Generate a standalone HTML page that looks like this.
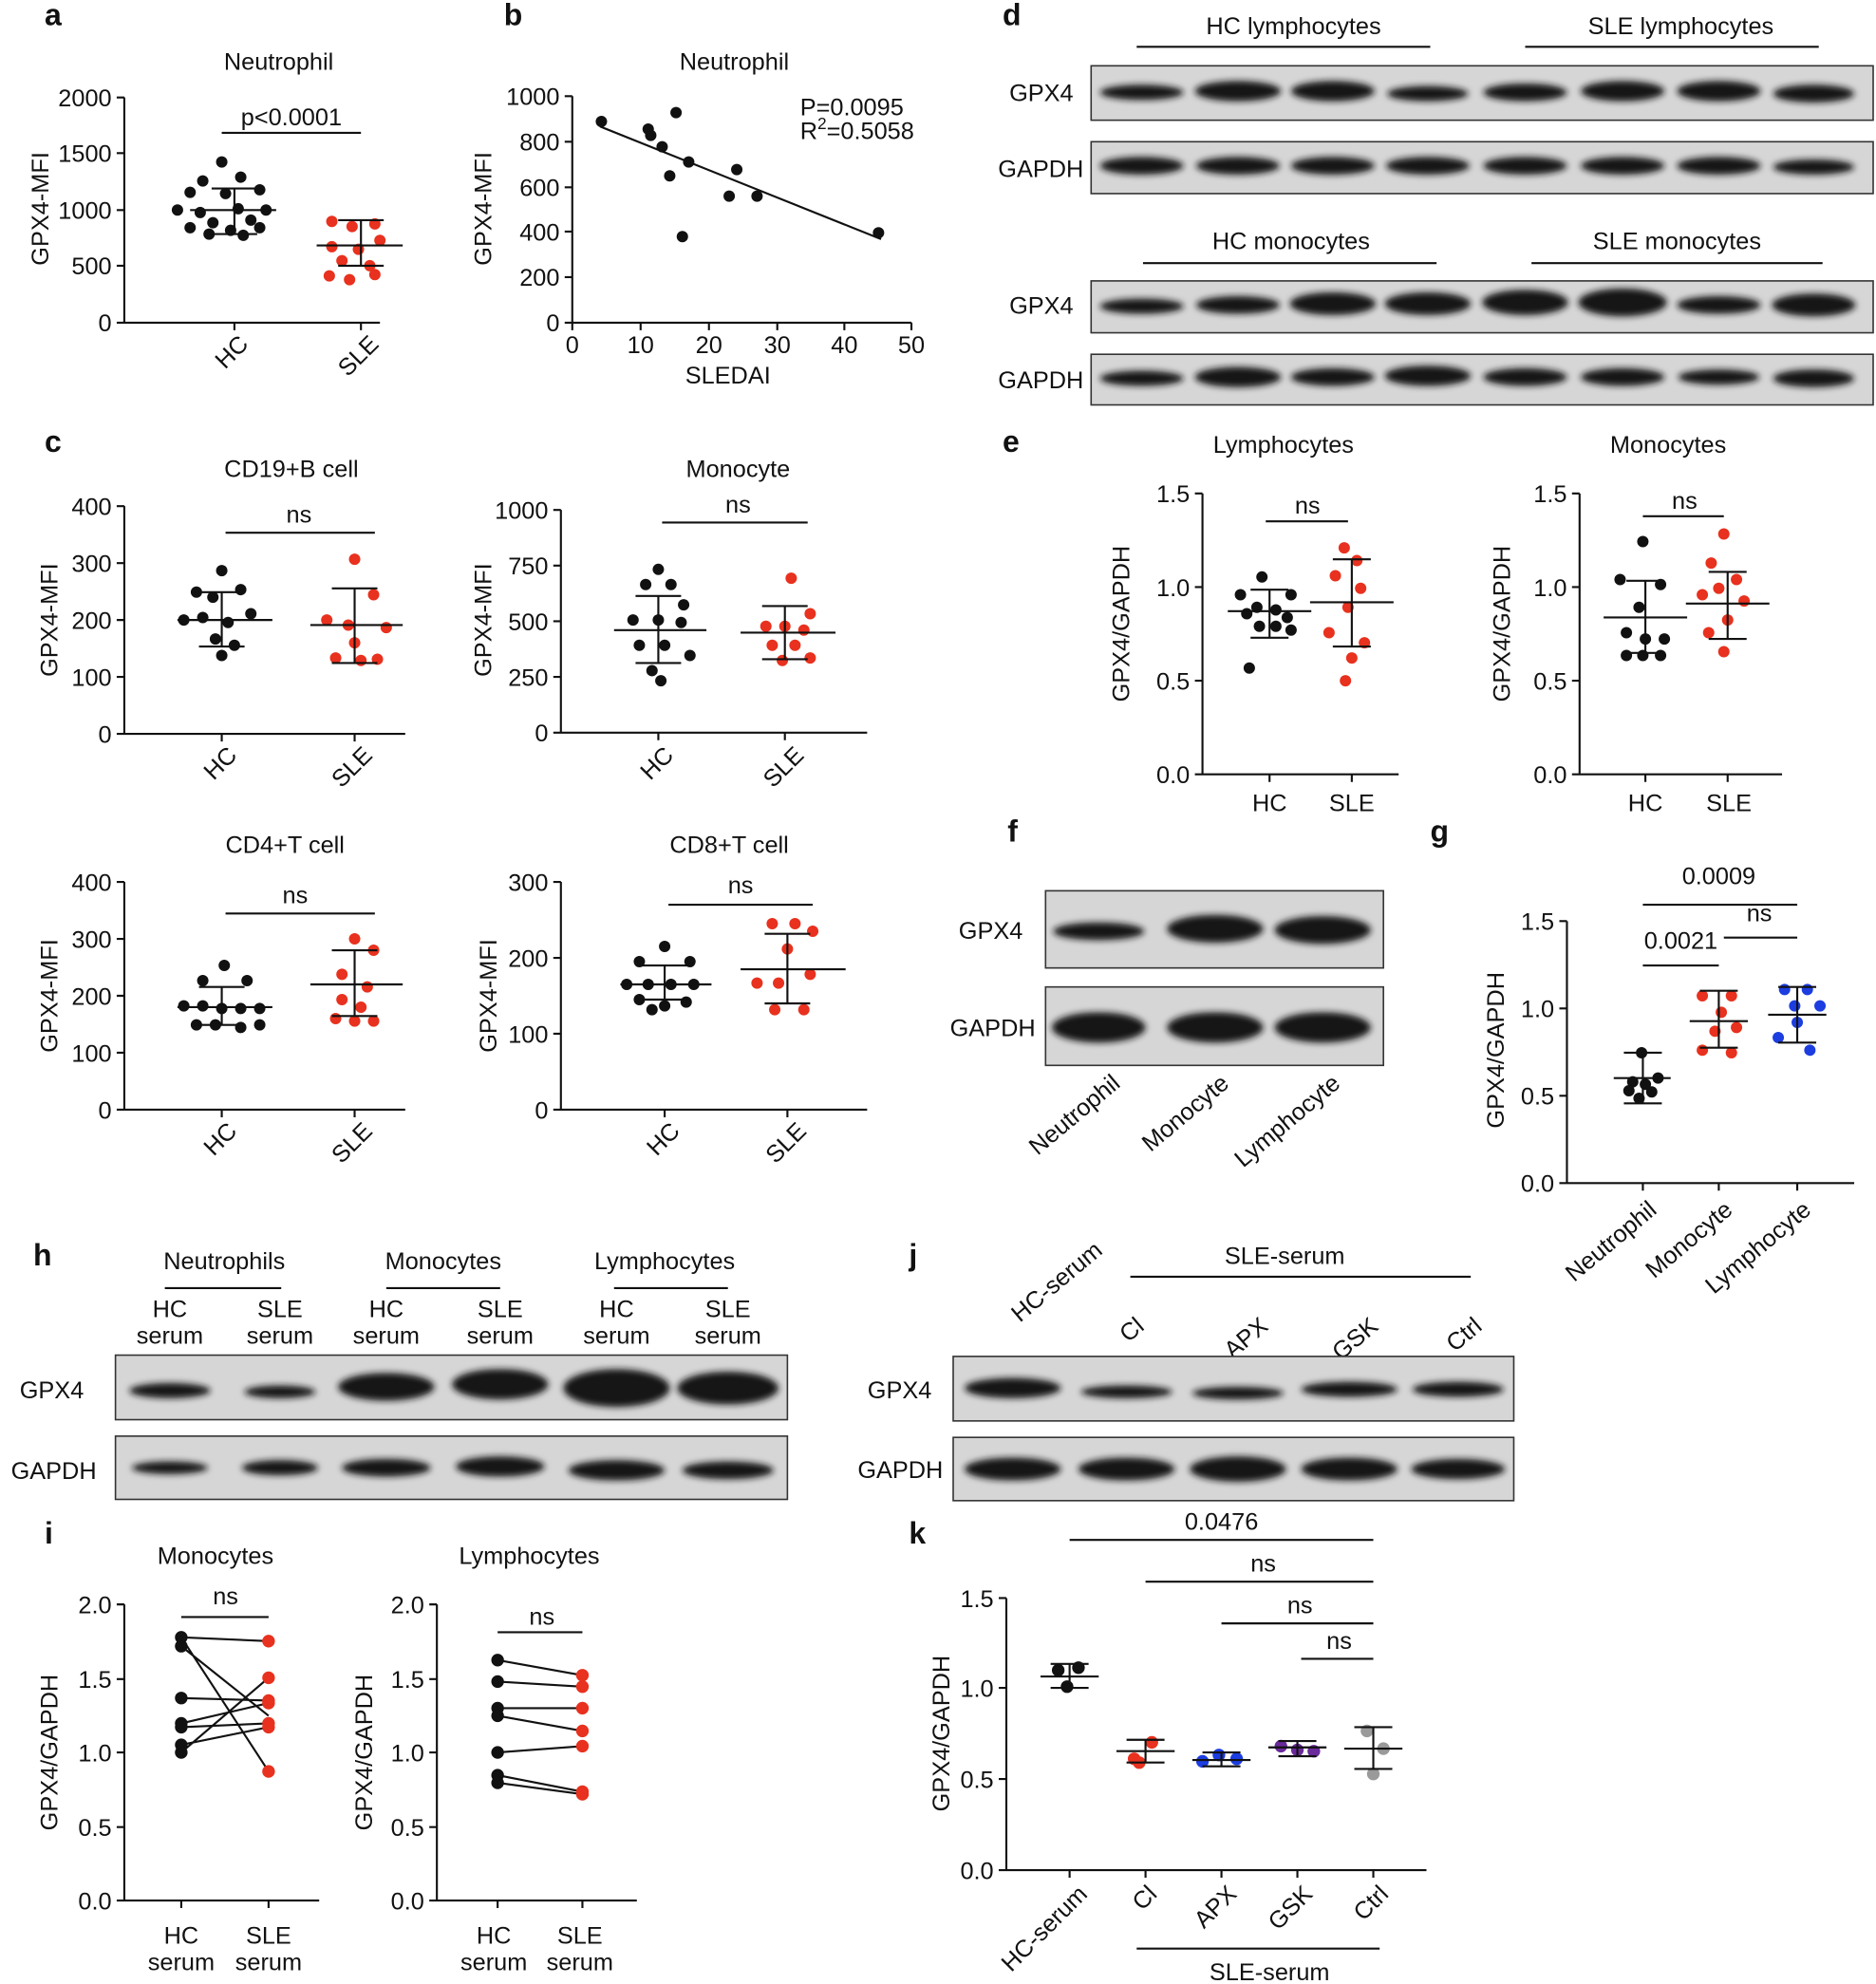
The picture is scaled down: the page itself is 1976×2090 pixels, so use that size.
<!DOCTYPE html>
<html><head><meta charset="utf-8"><style>
html,body{margin:0;padding:0;background:#fff}
svg{display:block}
text{font-family:"Liberation Sans",Arial,sans-serif;fill:#111}
.t{font-size:19px}
.tk{font-size:19px;text-anchor:end}
.c{font-size:19px;text-anchor:middle}
.L{font-size:24px;font-weight:bold}
.ax{stroke:#111;stroke-width:1.6;fill:none}
.eb{stroke:#111;stroke-width:1.6;fill:none}
.k{fill:#111}.r{fill:#e8311e}.b{fill:#1c3de0}.p{fill:#6a2a9a}.g{fill:#9a9a9a}
.box{fill:#d6d6d6;stroke:#333;stroke-width:1.2}
.bd{fill:#151515;filter:url(#bl)}
</style></head><body>
<svg width="1976" height="2090" viewBox="0 0 1482 1568" xmlns="http://www.w3.org/2000/svg">
<defs><filter id="bl" x="-30%" y="-80%" width="160%" height="260%"><feGaussianBlur stdDeviation="2.5"/></filter></defs>

<!-- Panel a -->
<text class="L" x="35" y="20">a</text>
<text class="c" x="220" y="55">Neutrophil</text>
<path class="ax" d="M98,77V255H300M92,77H98M92,121H98M92,166H98M92,210H98M92,255H98M185,255v6M285,255v6"/>
<text class="tk" x="88" y="84">2000</text><text class="tk" x="88" y="128">1500</text><text class="tk" x="88" y="173">1000</text><text class="tk" x="88" y="217">500</text><text class="tk" x="88" y="262">0</text>
<text class="c" transform="translate(38,165) rotate(-90)">GPX4-MFI</text>
<text class="t" text-anchor="end" transform="translate(197,273) rotate(-45)">HC</text>
<text class="t" text-anchor="end" transform="translate(300,273) rotate(-45)">SLE</text>
<path class="ax" d="M175,105H285"/><text class="c" x="230" y="99">p&lt;0.0001</text>
<g class="k"><circle cx="175" cy="128" r="4.5"/><circle cx="160" cy="143" r="4.5"/><circle cx="190" cy="140" r="4.5"/><circle cx="150" cy="152" r="4.5"/><circle cx="205" cy="150" r="4.5"/><circle cx="178" cy="153" r="4.5"/><circle cx="140" cy="166" r="4.5"/><circle cx="158" cy="168" r="4.5"/><circle cx="188" cy="165" r="4.5"/><circle cx="210" cy="166" r="4.5"/><circle cx="168" cy="176" r="4.5"/><circle cx="198" cy="174" r="4.5"/><circle cx="150" cy="180" r="4.5"/><circle cx="182" cy="182" r="4.5"/><circle cx="205" cy="180" r="4.5"/><circle cx="165" cy="185" r="4.5"/><circle cx="192" cy="186" r="4.5"/></g>
<path class="eb" d="M150,166H218M167,149H203M167,185H203M185,149V185"/>
<g class="r"><circle cx="262" cy="175" r="4.5"/><circle cx="278" cy="179" r="4.5"/><circle cx="296" cy="177" r="4.5"/><circle cx="300" cy="190" r="4.5"/><circle cx="262" cy="195" r="4.5"/><circle cx="283" cy="197" r="4.5"/><circle cx="270" cy="206" r="4.5"/><circle cx="292" cy="210" r="4.5"/><circle cx="260" cy="218" r="4.5"/><circle cx="276" cy="221" r="4.5"/><circle cx="296" cy="217" r="4.5"/></g>
<path class="eb" d="M250,194H318M267,174H303M267,210H303M285,174V210"/>

<!-- Panel b -->
<text class="L" x="398" y="20">b</text>
<text class="c" x="580" y="55">Neutrophil</text>
<path class="ax" d="M452,76V255H720M446,76H452M446,112H452M446,148H452M446,183H452M446,219H452M446,255H452M452,255v6M506,255v6M560,255v6M614,255v6M667,255v6M720,255v6"/>
<text class="tk" x="442" y="83">1000</text><text class="tk" x="442" y="119">800</text><text class="tk" x="442" y="155">600</text><text class="tk" x="442" y="190">400</text><text class="tk" x="442" y="226">200</text><text class="tk" x="442" y="262">0</text>
<text class="c" x="452" y="279">0</text><text class="c" x="506" y="279">10</text><text class="c" x="560" y="279">20</text><text class="c" x="614" y="279">30</text><text class="c" x="667" y="279">40</text><text class="c" x="720" y="279">50</text>
<text class="c" x="575" y="303">SLEDAI</text>
<text class="c" transform="translate(388,165) rotate(-90)">GPX4-MFI</text>
<text class="t" x="632" y="91">P=0.0095</text><text class="t" x="632" y="110">R<tspan font-size="13" dy="-8">2</tspan><tspan dy="8">=0.5058</tspan></text>
<path class="ax" d="M474,100L696,189"/>
<g class="k"><circle cx="475" cy="96" r="4.5"/><circle cx="512" cy="102" r="4.5"/><circle cx="514" cy="107" r="4.5"/><circle cx="534" cy="89" r="4.5"/><circle cx="523" cy="116" r="4.5"/><circle cx="529" cy="139" r="4.5"/><circle cx="544" cy="128" r="4.5"/><circle cx="539" cy="187" r="4.5"/><circle cx="576" cy="155" r="4.5"/><circle cx="582" cy="134" r="4.5"/><circle cx="598" cy="155" r="4.5"/><circle cx="694" cy="184" r="4.5"/></g>

<!-- Panel d -->
<text class="L" x="792" y="20">d</text>
<text class="c" x="1022" y="27">HC lymphocytes</text><path class="ax" d="M898,37H1130"/>
<text class="c" x="1328" y="27">SLE lymphocytes</text><path class="ax" d="M1205,37H1437"/>
<text class="tk" x="848" y="80">GPX4</text><text class="tk" x="856" y="140">GAPDH</text>
<rect class="box" x="862" y="52" width="618" height="43"/>
<rect class="box" x="862" y="112" width="618" height="41"/>
<g class="bd"><ellipse cx="902" cy="73" rx="33" ry="6"/><ellipse cx="978" cy="72" rx="34" ry="8"/><ellipse cx="1053" cy="72" rx="33" ry="8"/><ellipse cx="1128" cy="74" rx="32" ry="6"/><ellipse cx="1205" cy="73" rx="33" ry="7"/><ellipse cx="1282" cy="72" rx="33" ry="8"/><ellipse cx="1358" cy="72" rx="33" ry="8"/><ellipse cx="1433" cy="74" rx="32" ry="7"/>
<ellipse cx="902" cy="131" rx="33" ry="7"/><ellipse cx="978" cy="131" rx="33" ry="7"/><ellipse cx="1053" cy="131" rx="33" ry="7"/><ellipse cx="1128" cy="131" rx="33" ry="7"/><ellipse cx="1205" cy="131" rx="33" ry="7"/><ellipse cx="1282" cy="131" rx="33" ry="7"/><ellipse cx="1358" cy="131" rx="33" ry="7"/><ellipse cx="1433" cy="132" rx="32" ry="6"/></g>
<text class="c" x="1020" y="197">HC monocytes</text><path class="ax" d="M903,208H1135"/>
<text class="c" x="1325" y="197">SLE monocytes</text><path class="ax" d="M1210,208H1440"/>
<text class="tk" x="848" y="248">GPX4</text><text class="tk" x="856" y="307">GAPDH</text>
<rect class="box" x="862" y="222" width="618" height="41"/>
<rect class="box" x="862" y="280" width="618" height="40"/>
<g class="bd"><ellipse cx="902" cy="242" rx="33" ry="6"/><ellipse cx="978" cy="241" rx="33" ry="7"/><ellipse cx="1053" cy="240" rx="34" ry="9"/><ellipse cx="1128" cy="240" rx="34" ry="9"/><ellipse cx="1205" cy="239" rx="34" ry="10"/><ellipse cx="1282" cy="239" rx="35" ry="11"/><ellipse cx="1358" cy="241" rx="33" ry="7"/><ellipse cx="1433" cy="241" rx="33" ry="9"/>
<ellipse cx="902" cy="299" rx="33" ry="6"/><ellipse cx="978" cy="298" rx="34" ry="8"/><ellipse cx="1053" cy="298" rx="33" ry="7"/><ellipse cx="1128" cy="297" rx="34" ry="8"/><ellipse cx="1205" cy="298" rx="33" ry="7"/><ellipse cx="1282" cy="298" rx="33" ry="7"/><ellipse cx="1358" cy="298" rx="32" ry="6"/><ellipse cx="1433" cy="299" rx="32" ry="7"/></g>

<!-- Panel c1 -->
<text class="L" x="35" y="357">c</text>
<text class="c" x="230" y="377">CD19+B cell</text>
<path class="ax" d="M98,400V580H320M92,400H98M92,445H98M92,490H98M92,535H98M92,580H98M175,580v6M280,580v6"/>
<text class="tk" x="88" y="407">400</text><text class="tk" x="88" y="452">300</text><text class="tk" x="88" y="497">200</text><text class="tk" x="88" y="542">100</text><text class="tk" x="88" y="587">0</text>
<text class="c" transform="translate(45,490) rotate(-90)">GPX4-MFI</text>
<text class="t" text-anchor="end" transform="translate(188,598) rotate(-45)">HC</text>
<text class="t" text-anchor="end" transform="translate(295,598) rotate(-45)">SLE</text>
<path class="ax" d="M178,421H296"/><text class="c" x="236" y="413">ns</text>
<g class="k"><circle cx="175" cy="451" r="4.5"/><circle cx="155" cy="468" r="4.5"/><circle cx="168" cy="472" r="4.5"/><circle cx="190" cy="466" r="4.5"/><circle cx="145" cy="490" r="4.5"/><circle cx="160" cy="488" r="4.5"/><circle cx="180" cy="492" r="4.5"/><circle cx="198" cy="485" r="4.5"/><circle cx="170" cy="505" r="4.5"/><circle cx="185" cy="510" r="4.5"/><circle cx="175" cy="518" r="4.5"/></g>
<path class="eb" d="M140,490H215M157,468H193M157,511H193M175,468V511"/>
<g class="r"><circle cx="280" cy="442" r="4.5"/><circle cx="295" cy="470" r="4.5"/><circle cx="258" cy="490" r="4.5"/><circle cx="275" cy="494" r="4.5"/><circle cx="305" cy="496" r="4.5"/><circle cx="265" cy="520" r="4.5"/><circle cx="285" cy="522" r="4.5"/><circle cx="298" cy="521" r="4.5"/><circle cx="280" cy="508" r="4.5"/></g>
<path class="eb" d="M245,494H318M262,465H298M262,524H298M280,465V524"/>

<!-- Panel c2 -->
<text class="c" x="583" y="377">Monocyte</text>
<path class="ax" d="M443,403V579H685M437,403H443M437,447H443M437,491H443M437,535H443M437,579H443M520,579v6M620,579v6"/>
<text class="tk" x="433" y="410">1000</text><text class="tk" x="433" y="454">750</text><text class="tk" x="433" y="498">500</text><text class="tk" x="433" y="542">250</text><text class="tk" x="433" y="586">0</text>
<text class="c" transform="translate(388,490) rotate(-90)">GPX4-MFI</text>
<text class="t" text-anchor="end" transform="translate(533,598) rotate(-45)">HC</text>
<text class="t" text-anchor="end" transform="translate(636,598) rotate(-45)">SLE</text>
<path class="ax" d="M523,413H638"/><text class="c" x="583" y="405">ns</text>
<g class="k"><circle cx="520" cy="450" r="4.5"/><circle cx="510" cy="462" r="4.5"/><circle cx="530" cy="462" r="4.5"/><circle cx="540" cy="478" r="4.5"/><circle cx="500" cy="490" r="4.5"/><circle cx="520" cy="490" r="4.5"/><circle cx="538" cy="492" r="4.5"/><circle cx="505" cy="510" r="4.5"/><circle cx="525" cy="510" r="4.5"/><circle cx="545" cy="518" r="4.5"/><circle cx="515" cy="530" r="4.5"/><circle cx="522" cy="538" r="4.5"/></g>
<path class="eb" d="M485,498H558M502,471H538M502,524H538M520,471V524"/>
<g class="r"><circle cx="625" cy="457" r="4.5"/><circle cx="640" cy="485" r="4.5"/><circle cx="605" cy="495" r="4.5"/><circle cx="620" cy="495" r="4.5"/><circle cx="635" cy="498" r="4.5"/><circle cx="610" cy="510" r="4.5"/><circle cx="628" cy="510" r="4.5"/><circle cx="640" cy="520" r="4.5"/><circle cx="618" cy="522" r="4.5"/></g>
<path class="eb" d="M585,500H660M602,479H638M602,521H638M620,479V521"/>

<!-- Panel c3 -->
<text class="c" x="225" y="674">CD4+T cell</text>
<path class="ax" d="M98,697V877H320M92,697H98M92,742H98M92,787H98M92,832H98M92,877H98M175,877v6M280,877v6"/>
<text class="tk" x="88" y="704">400</text><text class="tk" x="88" y="749">300</text><text class="tk" x="88" y="794">200</text><text class="tk" x="88" y="839">100</text><text class="tk" x="88" y="884">0</text>
<text class="c" transform="translate(45,787) rotate(-90)">GPX4-MFI</text>
<text class="t" text-anchor="end" transform="translate(188,895) rotate(-45)">HC</text>
<text class="t" text-anchor="end" transform="translate(295,895) rotate(-45)">SLE</text>
<path class="ax" d="M178,722H296"/><text class="c" x="233" y="714">ns</text>
<g class="k"><circle cx="177" cy="763" r="4.5"/><circle cx="160" cy="775" r="4.5"/><circle cx="195" cy="775" r="4.5"/><circle cx="145" cy="795" r="4.5"/><circle cx="160" cy="795" r="4.5"/><circle cx="175" cy="797" r="4.5"/><circle cx="190" cy="797" r="4.5"/><circle cx="205" cy="797" r="4.5"/><circle cx="155" cy="810" r="4.5"/><circle cx="170" cy="810" r="4.5"/><circle cx="190" cy="812" r="4.5"/><circle cx="205" cy="810" r="4.5"/></g>
<path class="eb" d="M140,796H215M157,780H193M157,810H193M175,780V810"/>
<g class="r"><circle cx="280" cy="742" r="4.5"/><circle cx="295" cy="751" r="4.5"/><circle cx="270" cy="770" r="4.5"/><circle cx="290" cy="780" r="4.5"/><circle cx="270" cy="790" r="4.5"/><circle cx="285" cy="796" r="4.5"/><circle cx="265" cy="805" r="4.5"/><circle cx="280" cy="807" r="4.5"/><circle cx="295" cy="807" r="4.5"/></g>
<path class="eb" d="M245,778H318M262,751H298M262,803H298M280,751V803"/>

<!-- Panel c4 -->
<text class="c" x="576" y="674">CD8+T cell</text>
<path class="ax" d="M443,697V877H685M437,697H443M437,757H443M437,817H443M437,877H443M525,877v6M622,877v6"/>
<text class="tk" x="433" y="704">300</text><text class="tk" x="433" y="764">200</text><text class="tk" x="433" y="824">100</text><text class="tk" x="433" y="884">0</text>
<text class="c" transform="translate(392,787) rotate(-90)">GPX4-MFI</text>
<text class="t" text-anchor="end" transform="translate(538,895) rotate(-45)">HC</text>
<text class="t" text-anchor="end" transform="translate(638,895) rotate(-45)">SLE</text>
<path class="ax" d="M528,715H642"/><text class="c" x="585" y="706">ns</text>
<g class="k"><circle cx="525" cy="748" r="4.5"/><circle cx="505" cy="760" r="4.5"/><circle cx="545" cy="760" r="4.5"/><circle cx="495" cy="778" r="4.5"/><circle cx="512" cy="778" r="4.5"/><circle cx="530" cy="778" r="4.5"/><circle cx="548" cy="778" r="4.5"/><circle cx="505" cy="790" r="4.5"/><circle cx="525" cy="795" r="4.5"/><circle cx="542" cy="792" r="4.5"/><circle cx="515" cy="798" r="4.5"/></g>
<path class="eb" d="M490,778H562M507,763H543M507,790H543M525,763V790"/>
<g class="r"><circle cx="610" cy="730" r="4.5"/><circle cx="628" cy="730" r="4.5"/><circle cx="642" cy="736" r="4.5"/><circle cx="622" cy="750" r="4.5"/><circle cx="598" cy="777" r="4.5"/><circle cx="615" cy="777" r="4.5"/><circle cx="640" cy="770" r="4.5"/><circle cx="612" cy="798" r="4.5"/><circle cx="635" cy="798" r="4.5"/></g>
<path class="eb" d="M585,766H668M604,738H640M604,793H640M622,738V793"/>

<!-- Panel e -->
<text class="L" x="792" y="357">e</text>
<text class="c" x="1014" y="358">Lymphocytes</text>
<path class="ax" d="M950,390V612H1105M944,390H950M944,464H950M944,538H950M944,612H950M1003,612v6M1068,612v6"/>
<text class="tk" x="940" y="397">1.5</text><text class="tk" x="940" y="471">1.0</text><text class="tk" x="940" y="545">0.5</text><text class="tk" x="940" y="619">0.0</text>
<text class="c" transform="translate(892,493) rotate(-90)">GPX4/GAPDH</text>
<text class="c" x="1003" y="641">HC</text><text class="c" x="1068" y="641">SLE</text>
<path class="ax" d="M1000,412H1065"/><text class="c" x="1033" y="406">ns</text>
<g class="k"><circle cx="997" cy="456" r="4.5"/><circle cx="980" cy="470" r="4.5"/><circle cx="1020" cy="470" r="4.5"/><circle cx="993" cy="480" r="4.5"/><circle cx="1008" cy="482" r="4.5"/><circle cx="985" cy="485" r="4.5"/><circle cx="1017" cy="488" r="4.5"/><circle cx="995" cy="495" r="4.5"/><circle cx="1008" cy="495" r="4.5"/><circle cx="1020" cy="498" r="4.5"/><circle cx="987" cy="528" r="4.5"/></g>
<path class="eb" d="M970,483H1036M988,466H1018M988,504H1018M1003,466V504"/>
<g class="r"><circle cx="1062" cy="433" r="4.5"/><circle cx="1072" cy="443" r="4.5"/><circle cx="1055" cy="455" r="4.5"/><circle cx="1075" cy="465" r="4.5"/><circle cx="1065" cy="480" r="4.5"/><circle cx="1050" cy="500" r="4.5"/><circle cx="1078" cy="508" r="4.5"/><circle cx="1068" cy="520" r="4.5"/><circle cx="1063" cy="538" r="4.5"/></g>
<path class="eb" d="M1035,476H1101M1053,442H1083M1053,511H1083M1068,442V511"/>

<text class="c" x="1318" y="358">Monocytes</text>
<path class="ax" d="M1248,390V612H1408M1242,390H1248M1242,464H1248M1242,538H1248M1242,612H1248M1300,612v6M1365,612v6"/>
<text class="tk" x="1238" y="397">1.5</text><text class="tk" x="1238" y="471">1.0</text><text class="tk" x="1238" y="545">0.5</text><text class="tk" x="1238" y="619">0.0</text>
<text class="c" transform="translate(1193,493) rotate(-90)">GPX4/GAPDH</text>
<text class="c" x="1300" y="641">HC</text><text class="c" x="1366" y="641">SLE</text>
<path class="ax" d="M1298,408H1362"/><text class="c" x="1331" y="402">ns</text>
<g class="k"><circle cx="1298" cy="428" r="4.5"/><circle cx="1280" cy="458" r="4.5"/><circle cx="1312" cy="462" r="4.5"/><circle cx="1295" cy="480" r="4.5"/><circle cx="1285" cy="500" r="4.5"/><circle cx="1300" cy="505" r="4.5"/><circle cx="1315" cy="505" r="4.5"/><circle cx="1285" cy="518" r="4.5"/><circle cx="1298" cy="518" r="4.5"/><circle cx="1312" cy="518" r="4.5"/></g>
<path class="eb" d="M1267,488H1333M1285,459H1315M1285,516H1315M1300,459V516"/>
<g class="r"><circle cx="1362" cy="422" r="4.5"/><circle cx="1352" cy="445" r="4.5"/><circle cx="1372" cy="458" r="4.5"/><circle cx="1358" cy="465" r="4.5"/><circle cx="1345" cy="470" r="4.5"/><circle cx="1378" cy="475" r="4.5"/><circle cx="1365" cy="490" r="4.5"/><circle cx="1350" cy="500" r="4.5"/><circle cx="1362" cy="515" r="4.5"/></g>
<path class="eb" d="M1332,477H1398M1350,452H1380M1350,505H1380M1365,452V505"/>

<!-- Panel f -->
<text class="L" x="796" y="665">f</text>
<text class="tk" x="808" y="742">GPX4</text><text class="tk" x="818" y="819">GAPDH</text>
<rect class="box" x="826" y="704" width="267" height="61"/>
<rect class="box" x="826" y="780" width="267" height="62"/>
<g class="bd"><ellipse cx="868" cy="736" rx="36" ry="7"/><ellipse cx="960" cy="734" rx="38" ry="11"/><ellipse cx="1045" cy="735" rx="38" ry="11"/><ellipse cx="868" cy="812" rx="37" ry="12"/><ellipse cx="960" cy="812" rx="38" ry="12"/><ellipse cx="1045" cy="812" rx="38" ry="12"/></g>
<text class="t" text-anchor="end" transform="translate(886,858) rotate(-40)">Neutrophil</text>
<text class="t" text-anchor="end" transform="translate(972,858) rotate(-40)">Monocyte</text>
<text class="t" text-anchor="end" transform="translate(1060,858) rotate(-40)">Lymphocyte</text>

<!-- Panel g -->
<text class="L" x="1130" y="665">g</text>
<path class="ax" d="M1238,728V935H1465M1232,728H1238M1232,797H1238M1232,866H1238M1232,935H1238M1298,935v6M1358,935v6M1420,935v6"/>
<text class="tk" x="1228" y="735">1.5</text><text class="tk" x="1228" y="804">1.0</text><text class="tk" x="1228" y="873">0.5</text><text class="tk" x="1228" y="942">0.0</text>
<text class="c" transform="translate(1188,830) rotate(-90)">GPX4/GAPDH</text>
<path class="ax" d="M1298,715H1420M1298,763H1358M1362,741H1420"/>
<text class="c" x="1358" y="699">0.0009</text><text class="c" x="1328" y="750">0.0021</text><text class="c" x="1390" y="728">ns</text>
<g class="k"><circle cx="1297" cy="832" r="4.5"/><circle cx="1290" cy="855" r="4.5"/><circle cx="1300" cy="857" r="4.5"/><circle cx="1310" cy="852" r="4.5"/><circle cx="1287" cy="862" r="4.5"/><circle cx="1305" cy="863" r="4.5"/><circle cx="1295" cy="868" r="4.5"/></g>
<path class="eb" d="M1275,852H1320M1283,832H1313M1283,872H1313M1298,832V872"/>
<g class="r"><circle cx="1345" cy="787" r="4.5"/><circle cx="1368" cy="787" r="4.5"/><circle cx="1360" cy="800" r="4.5"/><circle cx="1372" cy="812" r="4.5"/><circle cx="1355" cy="815" r="4.5"/><circle cx="1345" cy="830" r="4.5"/><circle cx="1368" cy="832" r="4.5"/></g>
<path class="eb" d="M1335,807H1381M1343,783H1373M1343,828H1373M1358,783V828"/>
<g class="b"><circle cx="1410" cy="782" r="4.5"/><circle cx="1428" cy="782" r="4.5"/><circle cx="1418" cy="795" r="4.5"/><circle cx="1438" cy="795" r="4.5"/><circle cx="1420" cy="808" r="4.5"/><circle cx="1405" cy="820" r="4.5"/><circle cx="1430" cy="830" r="4.5"/></g>
<path class="eb" d="M1397,802H1443M1405,780H1435M1405,824H1435M1420,780V824"/>
<text class="t" text-anchor="end" transform="translate(1310,958) rotate(-40)">Neutrophil</text>
<text class="t" text-anchor="end" transform="translate(1370,958) rotate(-40)">Monocyte</text>
<text class="t" text-anchor="end" transform="translate(1432,958) rotate(-40)">Lymphocyte</text>

<!-- Panel h -->
<text class="L" x="26" y="1000">h</text>
<text class="c" x="177" y="1003">Neutrophils</text><path class="ax" d="M130,1018H222"/>
<text class="c" x="350" y="1003">Monocytes</text><path class="ax" d="M305,1018H395"/>
<text class="c" x="525" y="1003">Lymphocytes</text><path class="ax" d="M485,1018H575"/>
<text class="c" x="134" y="1041">HC</text><text class="c" x="134" y="1062">serum</text>
<text class="c" x="221" y="1041">SLE</text><text class="c" x="221" y="1062">serum</text>
<text class="c" x="305" y="1041">HC</text><text class="c" x="305" y="1062">serum</text>
<text class="c" x="395" y="1041">SLE</text><text class="c" x="395" y="1062">serum</text>
<text class="c" x="487" y="1041">HC</text><text class="c" x="487" y="1062">serum</text>
<text class="c" x="575" y="1041">SLE</text><text class="c" x="575" y="1062">serum</text>
<text class="tk" x="66" y="1105">GPX4</text><text class="tk" x="76" y="1169">GAPDH</text>
<rect class="box" x="91" y="1071" width="531" height="51"/>
<rect class="box" x="91" y="1135" width="531" height="50"/>
<g class="bd"><ellipse cx="134" cy="1099" rx="32" ry="6"/><ellipse cx="221" cy="1100" rx="28" ry="5"/><ellipse cx="305" cy="1096" rx="38" ry="11"/><ellipse cx="395" cy="1094" rx="38" ry="12"/><ellipse cx="487" cy="1097" rx="42" ry="15"/><ellipse cx="575" cy="1097" rx="40" ry="13"/>
<ellipse cx="134" cy="1160" rx="30" ry="5"/><ellipse cx="221" cy="1160" rx="30" ry="6"/><ellipse cx="305" cy="1160" rx="35" ry="7"/><ellipse cx="395" cy="1159" rx="35" ry="8"/><ellipse cx="487" cy="1162" rx="38" ry="8"/><ellipse cx="575" cy="1162" rx="36" ry="7"/></g>

<!-- Panel j -->
<text class="L" x="718" y="1000">j</text>
<text class="t" text-anchor="end" transform="translate(872,990) rotate(-40)">HC-serum</text>
<text class="c" x="1015" y="999">SLE-serum</text><path class="ax" d="M893,1009H1162"/>
<text class="t" text-anchor="end" transform="translate(905,1050) rotate(-40)">Cl</text>
<text class="t" text-anchor="end" transform="translate(1003,1050) rotate(-40)">APX</text>
<text class="t" text-anchor="end" transform="translate(1090,1050) rotate(-40)">GSK</text>
<text class="t" text-anchor="end" transform="translate(1172,1050) rotate(-40)">Ctrl</text>
<text class="tk" x="736" y="1105">GPX4</text><text class="tk" x="745" y="1168">GAPDH</text>
<rect class="box" x="753" y="1072" width="443" height="51"/>
<rect class="box" x="753" y="1136" width="443" height="50"/>
<g class="bd"><ellipse cx="800" cy="1097" rx="38" ry="8"/><ellipse cx="890" cy="1100" rx="36" ry="5"/><ellipse cx="978" cy="1101" rx="36" ry="5"/><ellipse cx="1066" cy="1098" rx="38" ry="6"/><ellipse cx="1152" cy="1098" rx="36" ry="6"/>
<ellipse cx="800" cy="1161" rx="38" ry="9"/><ellipse cx="890" cy="1161" rx="38" ry="9"/><ellipse cx="978" cy="1161" rx="38" ry="10"/><ellipse cx="1066" cy="1161" rx="38" ry="9"/><ellipse cx="1152" cy="1161" rx="37" ry="8"/></g>

<!-- Panel i -->
<text class="L" x="35" y="1220">i</text>
<text class="c" x="170" y="1236">Monocytes</text>
<path class="ax" d="M98,1268V1502H252M92,1268H98M92,1327H98M92,1385H98M92,1444H98M92,1502H98M143,1502v6M212,1502v6"/>
<text class="tk" x="88" y="1275">2.0</text><text class="tk" x="88" y="1334">1.5</text><text class="tk" x="88" y="1392">1.0</text><text class="tk" x="88" y="1451">0.5</text><text class="tk" x="88" y="1509">0.0</text>
<text class="c" transform="translate(45,1385) rotate(-90)">GPX4/GAPDH</text>
<text class="c" x="143" y="1536">HC</text><text class="c" x="143" y="1557">serum</text>
<text class="c" x="212" y="1536">SLE</text><text class="c" x="212" y="1557">serum</text>
<path class="ax" d="M143,1278H212"/><text class="c" x="178" y="1268">ns</text>
<path class="ax" stroke-width="1.3" d="M143,1294L212,1400M143,1301L212,1356M143,1342L212,1344M143,1362L212,1346M143,1365L212,1362M143,1379L212,1365M143,1385L212,1326M143,1294L212,1297"/>
<g class="k"><circle cx="143" cy="1294" r="5"/><circle cx="143" cy="1301" r="5"/><circle cx="143" cy="1342" r="5"/><circle cx="143" cy="1362" r="5"/><circle cx="143" cy="1365" r="5"/><circle cx="143" cy="1379" r="5"/><circle cx="143" cy="1385" r="5"/></g>
<g class="r"><circle cx="212" cy="1297" r="5"/><circle cx="212" cy="1326" r="5"/><circle cx="212" cy="1344" r="5"/><circle cx="212" cy="1346" r="5"/><circle cx="212" cy="1362" r="5"/><circle cx="212" cy="1365" r="5"/><circle cx="212" cy="1400" r="5"/></g>

<text class="c" x="418" y="1236">Lymphocytes</text>
<path class="ax" d="M345,1268V1502H503M339,1268H345M339,1327H345M339,1385H345M339,1444H345M339,1502H345M393,1502v6M460,1502v6"/>
<text class="tk" x="335" y="1275">2.0</text><text class="tk" x="335" y="1334">1.5</text><text class="tk" x="335" y="1392">1.0</text><text class="tk" x="335" y="1451">0.5</text><text class="tk" x="335" y="1509">0.0</text>
<text class="c" transform="translate(294,1385) rotate(-90)">GPX4/GAPDH</text>
<text class="c" x="390" y="1536">HC</text><text class="c" x="390" y="1557">serum</text>
<text class="c" x="458" y="1536">SLE</text><text class="c" x="458" y="1557">serum</text>
<path class="ax" d="M393,1290H460"/><text class="c" x="428" y="1284">ns</text>
<path class="ax" stroke-width="1.3" d="M393,1312L460,1324M393,1329L460,1333M393,1350L460,1350M393,1356L460,1368M393,1385L460,1380M393,1403L460,1416M393,1409L460,1418"/>
<g class="k"><circle cx="393" cy="1312" r="5"/><circle cx="393" cy="1329" r="5"/><circle cx="393" cy="1350" r="5"/><circle cx="393" cy="1356" r="5"/><circle cx="393" cy="1385" r="5"/><circle cx="393" cy="1403" r="5"/><circle cx="393" cy="1409" r="5"/></g>
<g class="r"><circle cx="460" cy="1324" r="5"/><circle cx="460" cy="1333" r="5"/><circle cx="460" cy="1350" r="5"/><circle cx="460" cy="1368" r="5"/><circle cx="460" cy="1380" r="5"/><circle cx="460" cy="1416" r="5"/><circle cx="460" cy="1418" r="5"/></g>

<!-- Panel k -->
<text class="L" x="718" y="1220">k</text>
<path class="ax" d="M795,1263V1478H1127M789,1263H795M789,1334H795M789,1406H795M789,1478H795M845,1478v6M905,1478v6M965,1478v6M1025,1478v6M1085,1478v6"/>
<text class="tk" x="785" y="1270">1.5</text><text class="tk" x="785" y="1341">1.0</text><text class="tk" x="785" y="1413">0.5</text><text class="tk" x="785" y="1485">0.0</text>
<text class="c" transform="translate(750,1370) rotate(-90)">GPX4/GAPDH</text>
<path class="ax" d="M845,1217H1085M905,1250H1085M965,1283H1085M1028,1311H1085"/>
<text class="c" x="965" y="1209">0.0476</text><text class="c" x="998" y="1242">ns</text><text class="c" x="1027" y="1275">ns</text><text class="c" x="1058" y="1303">ns</text>
<g class="k"><circle cx="836" cy="1320" r="5"/><circle cx="852" cy="1318" r="5"/><circle cx="843" cy="1333" r="5"/></g>
<path class="eb" d="M822,1325H868M830,1315H860M830,1334H860M845,1315V1334"/>
<g class="r"><circle cx="896" cy="1390" r="5"/><circle cx="910" cy="1377" r="5"/><circle cx="900" cy="1393" r="5"/></g>
<path class="eb" d="M882,1384H928M890,1375H920M890,1393H920M905,1375V1393"/>
<g class="b"><circle cx="950" cy="1392" r="5"/><circle cx="963" cy="1387" r="5"/><circle cx="977" cy="1390" r="5"/></g>
<path class="eb" d="M942,1391H988M950,1385H980M950,1396H980M965,1385V1396"/>
<g class="p"><circle cx="1012" cy="1380" r="5"/><circle cx="1025" cy="1383" r="5"/><circle cx="1038" cy="1384" r="5"/></g>
<path class="eb" d="M1002,1381H1048M1010,1376H1040M1010,1388H1040M1025,1376V1388"/>
<g class="g"><circle cx="1080" cy="1368" r="5"/><circle cx="1093" cy="1382" r="5"/><circle cx="1085" cy="1402" r="5"/></g>
<path class="eb" d="M1062,1382H1108M1070,1365H1100M1070,1398H1100M1085,1365V1398"/>
<text class="t" text-anchor="end" transform="translate(860,1498) rotate(-45)">HC-serum</text>
<text class="t" text-anchor="end" transform="translate(915,1498) rotate(-45)">Cl</text>
<text class="t" text-anchor="end" transform="translate(978,1498) rotate(-45)">APX</text>
<text class="t" text-anchor="end" transform="translate(1038,1498) rotate(-45)">GSK</text>
<text class="t" text-anchor="end" transform="translate(1098,1498) rotate(-45)">Ctrl</text>
<path class="ax" d="M898,1540H1090"/><text class="c" x="1003" y="1565">SLE-serum</text>
</svg>
</body></html>
